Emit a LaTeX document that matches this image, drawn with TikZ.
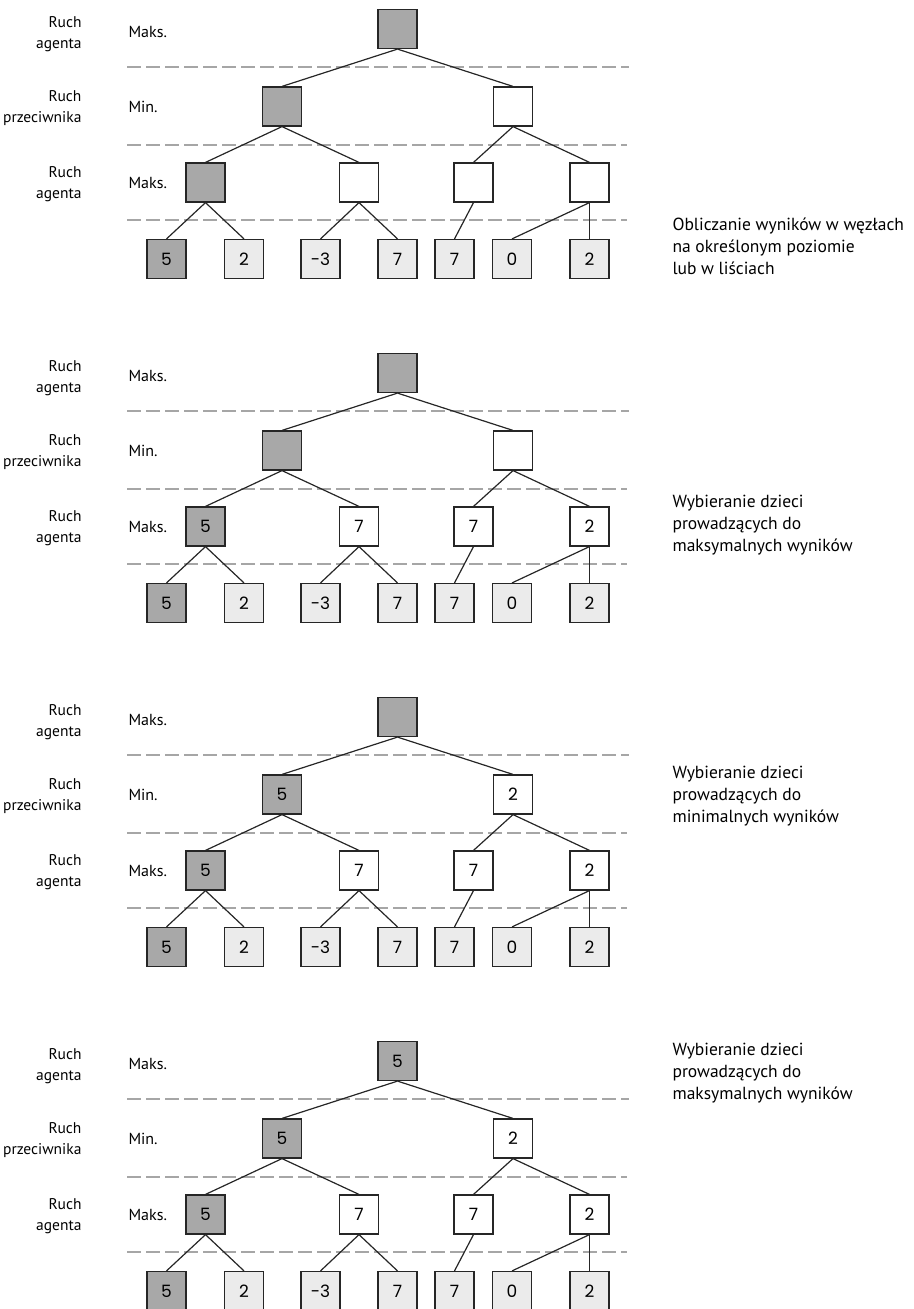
\documentclass[tikz,border=0pt]{standalone}
\usepackage{fontspec}
\setmainfont{PT Sans}
\newfontfamily\digitfont{Poppins}
\usetikzlibrary{positioning}

\definecolor{boxdark}{HTML}{A8A8A8}
\definecolor{leafgray}{HTML}{EBEBEB}
\definecolor{levelgray}{HTML}{A6A6A6}

\tikzset{
  box/.style={draw=black!85,line width=1.2pt,minimum size=39pt,inner sep=0pt,
    font=\digitfont\fontsize{17}{17}\selectfont},
  darkbox/.style={box,fill=boxdark},
  plainbox/.style={box,fill=white},
  leafbox/.style={box,fill=leafgray},
  level/.style={draw=levelgray,line width=1.3pt,dash pattern=on 14pt off 5pt},
  side/.style={align=right,anchor=east,font=\fontsize{15.5}{21}\selectfont},
  kind/.style={anchor=west,font=\fontsize{16}{21}\selectfont},
  note/.style={align=left,anchor=west,font=\fontsize{17.5}{22}\selectfont},
  edge/.style={draw=black!85,line width=1.2pt}
}

\begin{document}
\begin{tikzpicture}[x=1pt,y=-1pt]
\useasboundingbox (0,0) rectangle (913,1309);

% one panel per step of the minimax
\foreach \p/\yo/\vr/\vl/\vm/\va/\vb/\vc/\vd in
  {1/0/{}/{}/{}/{}/{}/{}/{},
   2/344/{}/{}/{}/5/7/7/2,
   3/688/{}/5/2/5/7/7/2,
   4/1032/5/5/2/5/7/7/2}{
\begin{scope}[shift={(0,\yo)}]
% levels
\node[side] (who1\p) at (85,34) {Ruch\\agenta};
\node[side] (who2\p) at (85,108) {Ruch\\przeciwnika};
\node[side] (who3\p) at (85,184) {Ruch\\agenta};
\node[kind] (kind1\p) at (125,32) {Maks.};
\node[kind] (kind2\p) at (125,107) {Min.};
\node[kind] (kind3\p) at (125,183) {Maks.};
\draw[level] (127,67) -- (629,67);
\draw[level] (127,145) -- (627,145);
\draw[level] (127,220) -- (627,220);
% tree
\node[darkbox] (root\p) at (397.5,29) {\vr};
\node[darkbox] (mina\p) at (282,106.5) {\vl};
\node[plainbox] (minb\p) at (513,106.5) {\vm};
\node[darkbox] (maxa\p) at (205.5,182.5) {\va};
\node[plainbox] (maxb\p) at (359,182.5) {\vb};
\node[plainbox] (maxc\p) at (473.5,182.5) {\vc};
\node[plainbox] (maxd\p) at (589.5,182.5) {\vd};
\node[darkbox] (leafa\p) at (166.5,259) {5};
\node[leafbox] (leafb\p) at (244,259) {2};
\node[leafbox] (leafc\p) at (320.5,259) {-3};
\node[leafbox] (leafd\p) at (397.5,259) {7};
\node[leafbox] (leafe\p) at (454.5,259) {7};
\node[leafbox] (leaff\p) at (512,259) {0};
\node[leafbox] (leafg\p) at (589.5,259) {2};
\draw[edge] (root\p.south) -- (mina\p.north);
\draw[edge] (root\p.south) -- (minb\p.north);
\draw[edge] (mina\p.south) -- (maxa\p.north);
\draw[edge] (mina\p.south) -- (maxb\p.north);
\draw[edge] (minb\p.south) -- (maxc\p.north);
\draw[edge] (minb\p.south) -- (maxd\p.north);
\draw[edge] (maxa\p.south) -- (leafa\p.north);
\draw[edge] (maxa\p.south) -- (leafb\p.north);
\draw[edge] (maxb\p.south) -- (leafc\p.north);
\draw[edge] (maxb\p.south) -- (leafd\p.north);
\draw[edge] (maxc\p.south) -- (leafe\p.north);
\draw[edge] (maxd\p.south) -- (leaff\p.north);
\draw[edge] (maxd\p.south) -- (leafg\p.north);
\end{scope}
}

% notes on the right
\node[note] (note1) at (669,246) {Obliczanie wyników w węzłach\\na określonym poziomie\\lub w liściach};
\node[note] (note2) at (669,525) {Wybieranie dzieci\\prowadzących do\\maksymalnych wyników};
\node[note] (note3) at (669,796) {Wybieranie dzieci\\prowadzących do\\minimalnych wyników};
\node[note] (note4) at (669,1073) {Wybieranie dzieci\\prowadzących do\\maksymalnych wyników};
\end{tikzpicture}
\end{document}
